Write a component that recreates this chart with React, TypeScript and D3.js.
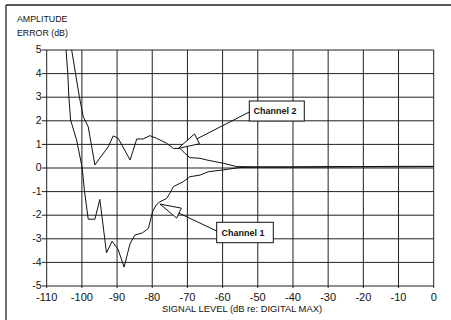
import React from "react";
import * as d3 from "d3";

const xTicks = [-110, -100, -90, -80, -70, -60, -50, -40, -30, -20, -10, 0];
const yTicks = [5, 4, 3, 2, 1, 0, -1, -2, -3, -4, -5];

const ch1X = [-104.5, -104.0, -103.7, -103.2, -101.5, -99.9, -99.3, -98.2, -96.3, -94.9, -93.0, -91.4, -89.7, -88.0, -86.3, -84.9, -82.8, -81.1, -79.9, -78.9, -77.8, -75.9, -75.0, -74.0, -71.2, -69.3, -66.4, -64.1, -59.8, -55.1, -50, -40, -30, -20, -10, 0];
const ch1Y = [5, 4, 3, 2.03, 1.19, 0, -0.93, -2.17, -2.17, -1.33, -3.6, -3.1, -3.45, -4.2, -3.2, -2.84, -2.75, -2.56, -1.85, -1.57, -1.43, -1.29, -1.07, -0.79, -0.58, -0.37, -0.3, -0.16, -0.08, 0.02, 0.03, 0.03, 0.04, 0.05, 0.05, 0.06];

const ch2X = [-102.9, -100.7, -99.6, -98.2, -96.3, -94.9, -92.5, -91.1, -89.7, -86.3, -84.4, -82.6, -80.7, -78.8, -75.9, -74.0, -72.1, -70.7, -69.3, -66.4, -64.5, -62.2, -59.8, -56.0, -50, -40, -30, -20, -10, 0];
const ch2Y = [5, 3, 2.17, 1.75, 0.13, 0.42, 0.9, 1.36, 1.26, 0.34, 1.23, 1.23, 1.37, 1.26, 1.05, 0.83, 0.83, 0.62, 0.44, 0.41, 0.34, 0.27, 0.2, 0.06, 0.05, 0.05, 0.06, 0.06, 0.07, 0.07];

const seriesNames = ["Channel 1", "Channel 2"];

const W = 451;
const H = 320;
const L = 46.7, R = 433.7, T = 50, B = 286;

export default function App() {
  const x = d3.scaleLinear().domain([-110, 0]).range([L, R]);
  const y = d3.scaleLinear().domain([-5, 5]).range([B, T]);
  const line = d3
    .line<[number, number]>()
    .x((d) => x(d[0]))
    .y((d) => y(d[1]));
  const d1 = ch1X.map((v, i) => [v, ch1Y[i]] as [number, number]);
  const d2 = ch2X.map((v, i) => [v, ch2Y[i]] as [number, number]);

  const font = "Arial, 'Liberation Sans', Helvetica, sans-serif";

  const arrow = (tip: [number, number], from: [number, number]) => {
    const dx = from[0] - tip[0];
    const dy = from[1] - tip[1];
    const len = Math.hypot(dx, dy);
    const ux = dx / len, uy = dy / len;
    const al = 21, hw = 5.5;
    const bx = tip[0] + ux * al, by = tip[1] + uy * al;
    const px = -uy, py = ux;
    const pts = [
      [tip[0], tip[1]],
      [bx + px * hw, by + py * hw],
      [bx - px * hw, by - py * hw],
    ];
    return (
      <g>
        <line x1={bx} y1={by} x2={from[0]} y2={from[1]} stroke="#111" strokeWidth={1} />
        <polygon points={pts.map((p) => p.join(",")).join(" ")} fill="white" stroke="#111" strokeWidth={1} />
      </g>
    );
  };

  const tip1: [number, number] = [x(-77.8), y(-1.53)];
  const tip2: [number, number] = [x(-72.6), y(0.83)];

  return (
    <svg width={W} height={H} style={{ position: "absolute", left: 0, top: 0, background: "white" }}>
      <rect x={0} y={0} width={W} height={H} fill="white" />
      {/* outer frame */}
      <line x1={6} y1={5} x2={W} y2={5} stroke="#222" strokeWidth={1.3} />
      <line x1={6} y1={5} x2={6} y2={H} stroke="#222" strokeWidth={1.3} />

      <text x={17} y={21.5} fontFamily={font} fontSize={8.8} fill="#111">AMPLITUDE</text>
      <text x={17} y={35.5} fontFamily={font} fontSize={8.8} fill="#111">ERROR (dB)</text>

      {/* grid */}
      {xTicks.map((t) => (
        <line key={"gx" + t} x1={x(t)} x2={x(t)} y1={T} y2={B + 2} stroke="#222" strokeWidth={1} />
      ))}
      {yTicks.map((t) => (
        <line key={"gy" + t} x1={L - 5} x2={R} y1={y(t)} y2={y(t)} stroke="#222" strokeWidth={1} />
      ))}

      {yTicks.map((t) => (
        <text key={"ly" + t} x={41.5} y={y(t) + 3.2} textAnchor="end" fontFamily={font} fontSize={10.5} fill="#111">
          {t}
        </text>
      ))}
      {xTicks.map((t) => (
        <text key={"lx" + t} x={x(t)} y={301} textAnchor="middle" fontFamily={font} fontSize={11} fill="#111">
          {t}
        </text>
      ))}
      <text x={162} y={311.5} textLength={160} lengthAdjust="spacingAndGlyphs" fontFamily={font} fontSize={8.6} fill="#111">
        SIGNAL LEVEL (dB re: DIGITAL MAX)
      </text>

      <defs>
        <clipPath id="plot">
          <rect x={L} y={T} width={R - L} height={B - T} />
        </clipPath>
      </defs>
      <g clipPath="url(#plot)">
        <path d={line(d1) || ""} fill="none" stroke="#111" strokeWidth={1} />
        <path d={line(d2) || ""} fill="none" stroke="#111" strokeWidth={1} />
      </g>

      {/* annotations */}
      {arrow(tip2, [249.3, 112])}
      {arrow(tip1, [216.7, 231])}
      <rect x={249.3} y={101} width={55} height={20} fill="white" stroke="#111" strokeWidth={1} />
      <text x={253.5} y={113.8} fontFamily={font} fontSize={9} fontWeight="bold" fill="#111">{seriesNames[1]}</text>
      <rect x={216.7} y={222.3} width={56.6} height={20.4} fill="white" stroke="#111" strokeWidth={1} />
      <text x={221.5} y={235.5} fontFamily={font} fontSize={9} fontWeight="bold" fill="#111">{seriesNames[0]}</text>
    </svg>
  );
}
